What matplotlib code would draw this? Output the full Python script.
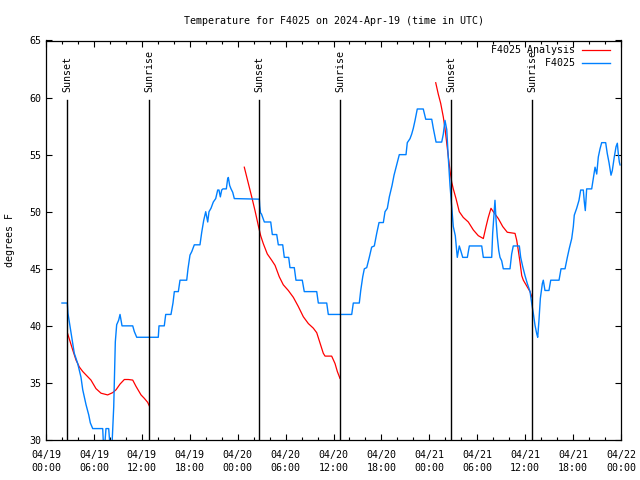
import numpy as np
import pandas as pd
import matplotlib
matplotlib.use("Agg")
import matplotlib.pyplot as plt
import matplotlib.dates as mdates

# ============================
# DATA (hours after 2024-04-19 00:00 UTC)
# ============================
start = pd.Timestamp("2024-04-19 00:00")

obs_hours = [
    2.00, 2.67, 2.75, 3.13, 3.54, 3.97, 4.38, 4.60, 5.01, 5.35, 5.55, 5.85,
    7.10, 7.20, 7.35, 7.51, 7.85, 8.01, 8.26, 8.48, 8.68, 8.85, 9.10, 9.27,
    9.52, 10.86, 11.06, 11.36, 14.06, 14.15, 14.81, 14.99, 15.65, 15.90, 16.07,
    16.57, 16.78, 17.62, 17.78, 18.03, 18.25, 18.57, 19.28, 19.50, 19.75, 20.00,
    20.25, 20.41, 20.66, 20.95, 21.25, 21.50, 21.66, 21.83, 22.00, 22.16, 22.58,
    22.75, 22.83, 23.00, 23.17, 23.38, 23.58, 26.71, 26.76, 26.86, 26.98, 27.34,
    28.14, 28.34, 28.89, 29.09, 29.64, 29.84, 30.39, 30.55, 31.09, 31.30, 32.09,
    32.34, 33.90, 34.10, 35.15, 35.35, 38.28, 38.48, 39.23, 39.41, 39.66, 39.86,
    40.16, 40.48, 40.78, 41.11, 41.41, 41.70, 42.24, 42.45, 42.74, 42.99, 43.33,
    43.58, 43.91, 44.24, 45.08, 45.24, 45.58, 45.79, 45.99, 46.21, 46.49, 47.24,
    47.55, 48.30, 48.50, 48.84, 49.55, 49.75, 49.96, 50.18, 50.38, 50.59, 50.80,
    51.00, 51.25, 51.50, 51.75, 51.93, 52.18, 52.76, 53.01, 54.56, 54.76, 55.81,
    55.93, 56.10, 56.22, 56.35, 56.51, 56.69, 56.85, 57.06, 57.26, 58.10, 58.31,
    58.51, 59.27, 59.44, 59.69, 59.98, 60.27, 60.61, 60.86, 61.02, 61.23, 61.45,
    61.57, 61.73, 61.90, 62.15, 62.27, 62.48, 62.98, 63.20, 64.24, 64.49, 64.99,
    65.28, 65.53, 65.83, 66.03, 66.15, 66.45, 66.74, 66.95, 67.28, 67.40, 67.53,
    67.70, 68.33, 68.53, 68.75, 68.96, 69.16, 69.37, 69.58, 70.08, 70.28, 70.50,
    70.75, 70.91, 71.16, 71.38, 71.54, 71.66, 71.79, 71.88,
]
obs_temps = [
    42.0, 42.0, 41.1, 39.4, 37.6, 36.7, 35.5, 34.4, 33.1, 32.2, 31.5, 31.0,
    31.0, 29.5, 29.5, 31.0, 31.0, 29.5, 29.5, 32.9, 38.6, 40.1, 40.5, 41.0,
    40.0, 40.0, 39.5, 39.0, 39.0, 40.0, 40.0, 41.0, 41.0, 42.0, 43.0,
    43.0, 44.0, 44.0, 45.0, 46.2, 46.5, 47.1, 47.1, 48.2, 49.25, 50.0,
    49.1, 50.0, 50.3, 50.85, 51.15, 51.9, 51.9, 51.3, 51.9, 52.0, 52.0,
    52.9, 53.0, 52.3, 52.0, 51.7, 51.15, 51.1, 50.5, 49.9, 49.8, 49.1,
    49.1, 48.0, 48.0, 47.1, 47.1, 46.0, 46.0, 45.1, 45.1, 44.0, 44.0,
    43.0, 43.0, 42.0, 42.0, 41.0, 41.0, 42.0, 42.0, 43.1, 44.3, 45.0,
    45.1, 46.0, 46.9, 47.0, 48.1, 49.05, 49.05, 50.0, 50.3, 51.3, 52.3,
    53.2, 54.1, 55.0, 55.0, 56.05, 56.4, 56.8, 57.3, 58.0, 59.0, 59.0,
    58.1, 58.1, 57.3, 56.1, 56.1, 56.8, 58.0, 57.2, 54.65, 52.3, 50.4,
    48.7, 47.9, 46.0, 47.0, 46.6, 46.0, 46.0, 47.0, 47.0, 46.0, 46.0,
    48.1, 49.8, 51.0, 49.3, 47.8, 46.6, 46.0, 45.7, 45.0, 45.0, 46.3,
    47.0, 47.0, 46.0, 45.2, 44.4, 43.7, 43.0, 41.8, 41.1, 40.06, 39.3,
    39.0, 40.5, 42.4, 43.7, 44.0, 43.1, 43.1, 44.0, 44.0, 45.0, 45.0,
    46.0, 46.8, 47.65, 48.7, 49.7, 50.3, 51.0, 51.9, 51.9, 50.9, 50.1,
    52.0, 52.0, 52.9, 53.9, 53.3, 54.8, 55.5, 56.05, 56.05, 55.1, 54.3,
    53.2, 53.6, 54.8, 55.7, 56.0, 55.1, 54.35, 54.1,
]

# analysis runs only overnight; NaN breaks the line between nights
ana_hours = [
    2.72, 3.34, 3.76, 4.17, 4.60, 5.01, 5.63, 6.26, 6.89, 7.72, 8.35, 8.77,
    9.27, 9.81, 10.31, 10.86, 11.27, 11.90, 12.31, 12.73, 12.93,
    np.nan,
    24.83, 25.33, 25.76, 26.17, 26.58, 26.88, 27.21, 27.71, 28.26, 28.68, 29.21,
    29.71, 30.34, 30.97, 31.59, 32.22, 32.85, 33.47, 33.90, 34.31, 34.72, 34.94,
    35.77, 36.19, 36.48, 36.81,
    np.nan,
    48.80, 49.12, 49.42, 49.75, 49.96, 50.18, 50.38, 50.59, 50.80, 51.00, 51.34,
    51.75, 52.25, 52.88, 53.51, 54.13, 54.76, 55.10, 55.38, 55.72, 56.01, 56.64,
    57.19, 57.76, 58.73, 58.94, 59.14, 59.35, 59.57, 59.77, 60.19, 60.61, 60.86,
]
ana_temps = [
    39.3, 37.9, 37.0, 36.4, 36.0, 35.7, 35.25, 34.5, 34.1, 33.95, 34.15, 34.4,
    34.9, 35.3, 35.3, 35.25, 34.7, 33.95, 33.65, 33.3, 33.0,
    np.nan,
    53.9, 52.5, 51.3, 50.1, 48.8, 47.9, 47.2, 46.3, 45.75, 45.3, 44.3,
    43.6, 43.1, 42.5, 41.7, 40.8, 40.2, 39.8, 39.4, 38.5, 37.6, 37.35,
    37.35, 36.7, 36.0, 35.4,
    np.nan,
    61.3, 60.3, 59.5, 58.3, 57.3, 56.0, 54.8, 53.6, 52.6, 52.0, 51.15,
    50.0, 49.5, 49.1, 48.4, 47.9, 47.65, 48.7, 49.5, 50.3, 50.0, 49.4,
    48.7, 48.2, 48.1, 47.5, 46.6, 45.6, 44.4, 44.0, 43.5, 43.0, 42.5,
]

sun_hours = [2.68, 12.95, 26.67, 36.81, 50.71, 60.86]
sun_labels = ["Sunset", "Sunrise", "Sunset", "Sunrise", "Sunset", "Sunrise"]
sun_line_top = 59.8

labels = ["F4025 Analysis", "F4025"]


def to_time(hours):
    return start + pd.to_timedelta(np.asarray(hours, dtype=float), unit="h")


# ============================
# PLOT
# ============================
plt.rcParams["font.family"] = "DejaVu Sans Mono"
plt.rcParams["font.size"] = 7.2

fig = plt.figure(figsize=(6.4, 4.8), dpi=100)
ax = fig.add_axes([46 / 640, 1 - 440 / 480, 575 / 640, 399.5 / 480])

width = max(len(s) for s in labels)
ax.plot(to_time(ana_hours), ana_temps, color="#ff0000", lw=0.9,
        label=labels[0].rjust(width))
ax.plot(to_time(obs_hours), obs_temps, color="#0080ff", lw=1.0,
        label=labels[1].rjust(width))

for h, name in zip(sun_hours, sun_labels):
    t = to_time([h])[0]
    ax.plot([t, t], [30, sun_line_top], color="black", lw=1.0)
    ax.text(t, sun_line_top + 0.7, name, rotation=90, ha="center", va="bottom")

ax.set_xlim(start, start + pd.Timedelta(hours=72))
ax.set_ylim(30, 65)
ax.set_yticks(range(30, 66, 5))
ax.xaxis.set_major_locator(mdates.HourLocator(byhour=range(0, 24, 6)))
ax.xaxis.set_minor_locator(mdates.HourLocator(byhour=range(0, 24, 2)))
ax.xaxis.set_major_formatter(mdates.DateFormatter("%m/%d\n%H:%M"))
ax.tick_params(which="both", direction="in", top=True, right=True, width=0.8)
ax.tick_params(which="major", length=4)
ax.tick_params(which="minor", length=2.5)
ax.tick_params(axis="x", pad=7)
for lbl in ax.get_xticklabels():
    lbl.set_linespacing(1.35)
for s in ax.spines.values():
    s.set_linewidth(0.9)

ax.set_title("Temperature for F4025 on 2024-Apr-19 (time in UTC)",
             fontsize=7.2, pad=12)
ax.set_ylabel("degrees F", labelpad=10)

ax.legend(loc="upper right", frameon=False, markerfirst=False,
          handlelength=2.8, handletextpad=0.7, labelspacing=0.3,
          borderaxespad=0.7, bbox_to_anchor=(1.0, 1.016))

fig.savefig("out.png", dpi=100)
